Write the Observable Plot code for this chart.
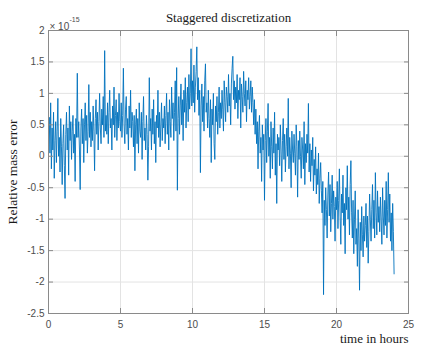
<!DOCTYPE html>
<html><head><meta charset="utf-8">
<script src="https://cdn.jsdelivr.net/npm/d3@7"></script>
<script src="https://cdn.jsdelivr.net/npm/@observablehq/plot@0.6"></script>
<style>body{margin:0;background:#fff} #chart{width:441px;height:353px}</style>
</head><body><div id="chart"></div>
<script>
const title = "Staggered discretization";
const xLabel = "time in hours";
const yLabel = "Relative mass error";
const multiplierBase = "× 10";
const multiplierExp = "-15";
const xTicks = [0, 5, 10, 15, 20, 25];
const yTicks = [-2.5, -2, -1.5, -1, -0.5, 0, 0.5, 1, 1.5, 2];
const timeStep = 0.05; // hours between samples
// relative mass error (×1e-15), 20 samples per hour
const massError = [
  // 0 h
  0.30, 0.62, 0.05, 0.85, -0.20, 0.45, 0.10, 0.70, -0.35, 0.25, 0.55, -0.10, 0.40, 0.92, 0.00, 0.30, -0.25, 0.60, 0.15, -0.45,
  // 1 h
  0.20, 0.50, -0.15, -0.67, 0.35, 0.70, 0.10, 0.45, -0.30, 0.80, 0.25, 0.55, -0.05, 0.40, 0.65, 0.05, 0.35, -0.40, 0.60, 0.30,
  // 2 h
  1.32, 0.30, 0.55, 0.10, -0.53, 0.45, 0.75, 0.20, 0.60, -0.10, 0.50, 0.85, 0.25, 0.65, 0.05, 0.40, 1.14, 0.30, 0.70, 0.15,
  // 3 h
  0.55, 0.25, 0.80, 0.40, -0.23, 0.60, 0.90, 0.35, 0.70, 0.10, 0.55, 1.00, 0.45, 0.20, 0.75, 0.50, 0.95, 0.30, 1.68, 0.40,
  // 4 h
  0.65, 0.35, 0.85, 0.20, 0.70, 1.05, 0.45, 0.60, 0.10, 0.80, 0.50, 1.10, 0.30, 0.65, 0.90, 0.25, 0.70, 0.45, 1.00, 0.55,
  // 5 h
  0.40, 0.85, 0.30, 0.65, 1.40, 0.50, 0.20, 0.75, 0.95, 0.35, 0.60, 0.10, 0.80, 0.45, 1.05, 0.30, 0.70, 0.55, 0.15, 0.65,
  // 6 h
  -0.23, 0.50, 0.75, 0.20, 0.60, 0.05, 0.85, 0.40, 0.30, 0.70, -0.05, 0.55, 0.95, 0.25, 0.45, 0.10, 0.65, 0.35, -0.38, 0.15,
  // 7 h
  1.25, 0.40, 0.60, 0.10, 0.75, 0.35, 0.90, 0.20, 0.55, -0.10, 0.65, 0.45, 1.05, 0.30, 0.70, 0.15, 0.50, 0.85, 0.25, 0.60,
  // 8 h
  0.45, 0.80, 0.20, 0.65, 1.00, 0.35, 0.70, 0.10, 0.90, 0.55, 0.30, 1.10, 0.60, 0.85, 0.25, 0.70, 1.20, 0.40, 1.41, -0.54,
  // 9 h
  0.60, 0.95, 0.35, 0.80, 1.15, 0.50, 0.90, 0.25, 1.05, 0.70, 1.25, 0.45, 0.85, 1.10, 0.55, 1.30, 0.75, 1.00, 1.71, 0.80,
  // 10 h
  1.20, 0.85, 1.45, 0.70, 1.10, 1.35, 1.74, 0.90, 1.25, 0.65, 1.05, -0.26, 0.80, 1.15, 0.55, 0.95, 0.40, 1.20, 1.47, 0.70,
  // 11 h
  0.85, 0.45, 1.05, 0.60, 0.30, 0.90, -0.10, 0.75, 0.50, 1.00, 0.20, -0.05, 0.80, 0.55, 0.95, 0.35, 0.70, 1.10, 0.45, 0.85,
  // 12 h
  0.60, 1.05, 0.75, 0.40, 1.20, 0.85, 0.55, 1.10, 0.95, 0.70, 1.30, 0.80, 1.00, 0.50, 1.15, 1.40, 1.59, 0.90, 1.20, 0.75,
  // 13 h
  1.10, 0.85, 1.30, 0.60, 1.05, 0.90, 1.25, 0.45, 1.15, 0.95, 0.70, 1.35, 1.00, 0.80, 1.20, 0.55, 1.05, 0.90, 1.25, 0.75,
  // 14 h
  0.95, 1.20, 0.70, 1.10, 0.85, 0.50, 0.90, 0.35, 0.75, 0.20, 0.55, -0.20, 0.40, 0.65, 0.05, 0.30, -0.40, 0.50, 0.10, 0.35,
  // 15 h
  -0.70, 0.25, 0.60, -0.10, 0.40, 0.84, 0.00, 0.30, -0.35, 0.55, 0.15, -0.20, 0.45, 0.05, 0.70, -0.30, 0.20, -0.75, 0.35, 0.10,
  // 16 h
  0.30, -0.15, 0.50, 0.10, -0.40, 0.25, 0.60, -0.05, 0.35, -0.25, 0.15, 0.45, 0.00, 0.92, -0.20, 0.30, 0.05, -0.50, 0.40, 0.10,
  // 17 h
  -0.10, 0.35, 0.05, -0.30, 0.50, 0.15, -0.65, 0.25, -0.05, 0.40, 0.00, -0.35, 0.30, 0.10, -0.20, 0.55, -0.45, 0.20, -0.10, 0.35,
  // 18 h
  0.05, 0.84, -0.25, 0.20, -0.40, 0.10, -0.15, 0.30, -0.55, -0.05, -0.30, 0.15, -0.60, -0.20, -0.45, 0.05, -0.75, -0.35, -0.10, -0.55,
  // 19 h
  -0.90, -0.40, -2.20, -0.70, -1.10, -0.50, -0.85, -1.30, -0.60, -0.25, -0.95, -0.45, -1.20, -0.75, -0.30, -1.00, -0.55, -0.80, -1.35, -0.65,
  // 20 h
  -0.85, -0.40, -1.15, -0.70, -0.20, -0.95, -1.40, -0.60, -0.90, -0.30, -1.10, -0.75, -1.55, -0.50, -0.85, -0.15, -1.00, -0.65, -1.25, -0.45,
  // 21 h
  -0.07, -0.90, -1.30, -0.70, -1.55, -1.00, -0.55, -1.40, -1.15, -1.75, -0.85, -1.30, -2.13, -1.05, -1.50, -0.80, -1.25, -1.60, -0.95, -1.35,
  // 22 h
  -1.10, -0.75, -1.45, -0.95, -1.70, -1.20, -0.60, -1.00, -1.35, -0.85, -0.45, -1.15, -0.70, -1.30, -0.26, -0.90, -1.25, -0.55, -1.05, -0.80,
  // 23 h
  -1.20, -0.65, -1.00, -1.40, -0.50, -0.95, -1.25, -0.70, -1.10, -0.40, -1.30, -0.85, -0.26, -1.05, -0.60, -1.35, -0.90, -1.50, -0.75, -1.20,
  // 24 h
  -1.87
];

const data = massError.map((v, i) => ({t: i * timeStep, v}));
const fmt = d => String(d); // MATLAB-style hyphen minus
const axisColor = "#8a8a8a";
const gridColor = "#e3e3e3";
const serif = "'Liberation Serif', 'Times New Roman', serif";

const chart = Plot.plot({
  width: 441,
  height: 353,
  marginLeft: 48,
  marginRight: 33,
  marginTop: 30,
  marginBottom: 40,
  x: {domain: [0, 25]},
  y: {domain: [-2.5, 2]},
  style: {background: "white", fontFamily: "'Liberation Sans', Arial, sans-serif", fontSize: "10px", color: "#4d4d4d"},
  marks: [
    Plot.gridX(xTicks, {stroke: gridColor, strokeOpacity: 1}),
    Plot.gridY(yTicks, {stroke: gridColor, strokeOpacity: 1}),
    Plot.line(data, {x: "t", y: "v", stroke: "#0072BD", strokeWidth: 0.9}),
    Plot.frame({stroke: axisColor}),
    // tick labels
    Plot.axisX(xTicks, {anchor: "bottom", tickSize: 0, tickPadding: 7, tickFormat: fmt, label: null, fill: "#4d4d4d"}),
    Plot.axisY(yTicks, {anchor: "left", tickSize: 0, tickPadding: 4, tickFormat: fmt, label: null, fill: "#4d4d4d"}),
    // inward ticks on all four sides
    Plot.axisX(xTicks, {anchor: "bottom", tickSize: 5, dy: -5, fill: "none", stroke: axisColor, label: null}),
    Plot.axisX(xTicks, {anchor: "top", tickSize: 5, dy: 5, fill: "none", stroke: axisColor, label: null}),
    Plot.axisY(yTicks, {anchor: "left", tickSize: 5, dx: 5, fill: "none", stroke: axisColor, label: null}),
    Plot.axisY(yTicks, {anchor: "right", tickSize: 5, dx: -5, fill: "none", stroke: axisColor, label: null}),
    // titles
    Plot.text([title], {frameAnchor: "top", dy: -18, fontFamily: serif, fontSize: 13, fill: "#1a1a1a"}),
    Plot.text([xLabel], {frameAnchor: "bottom-right", dy: 29, textAnchor: "end", fontFamily: serif, fontSize: 13, fill: "#1a1a1a"}),
    Plot.text([yLabel], {frameAnchor: "left", dx: -36, rotate: -90, textAnchor: "middle", fontFamily: serif, fontSize: 13.5, fill: "#1a1a1a"}),
    Plot.text([multiplierBase], {frameAnchor: "top-left", dx: 1, dy: -8, textAnchor: "start", fontSize: 10, fill: "#4d4d4d"}),
    Plot.text([multiplierExp], {frameAnchor: "top-left", dx: 21, dy: -13, textAnchor: "start", fontSize: 7, fill: "#4d4d4d"})
  ]
});
document.getElementById("chart").append(chart);
</script>
</body></html>
